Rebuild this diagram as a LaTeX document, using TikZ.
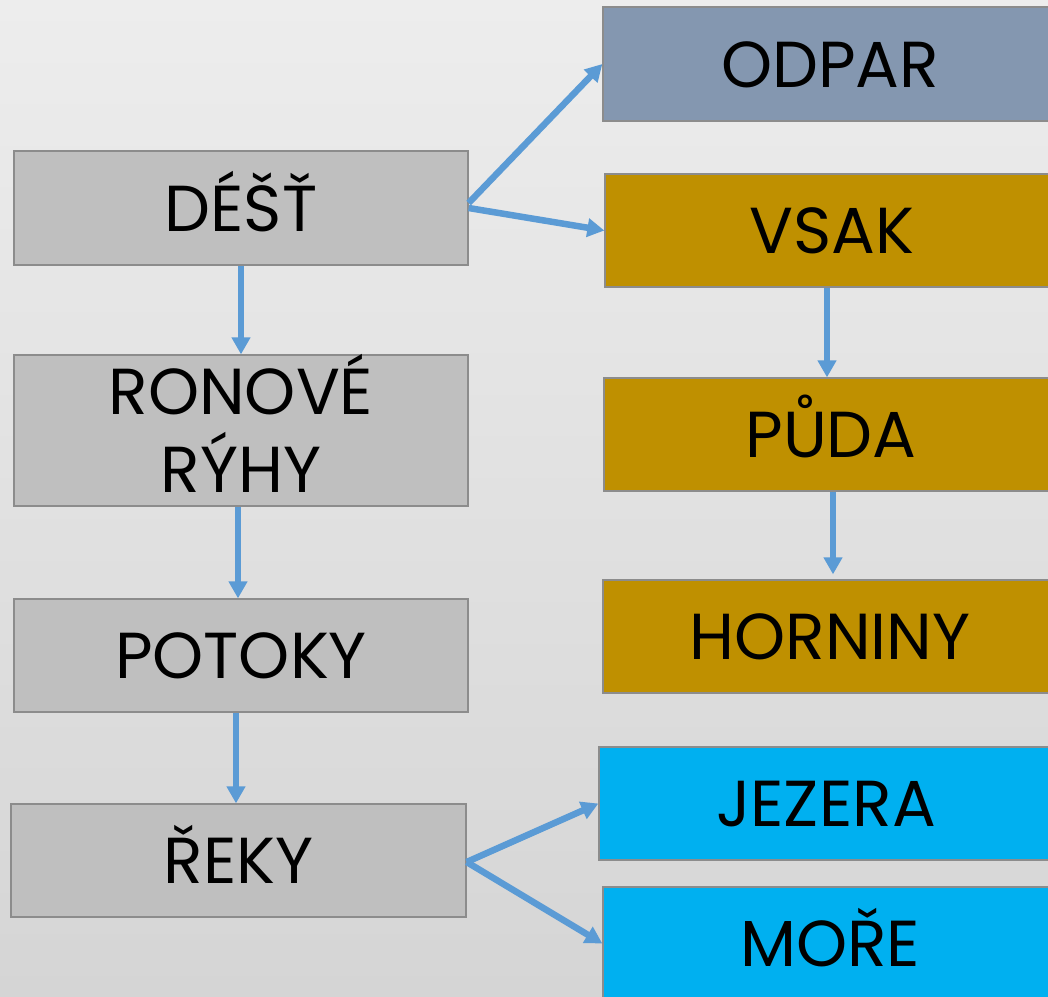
\documentclass[tikz,border=0pt]{standalone}
\usepackage{fontspec}
\setmainfont{Poppins}
\usetikzlibrary{arrows.meta}
\definecolor{bgtop}{HTML}{EDEDED}
\definecolor{bgbot}{HTML}{D5D5D5}
\definecolor{boxgray}{HTML}{BFBFBF}
\definecolor{boxedge}{HTML}{8C8C8C}
\definecolor{odparc}{HTML}{8497B0}
\definecolor{goldc}{HTML}{BF9000}
\definecolor{bluec}{HTML}{00B0F0}
\definecolor{arrowc}{HTML}{5B9BD5}
\begin{document}
\begin{tikzpicture}[x=1pt,y=-1pt,
  box/.style={draw=boxedge, line width=1.3pt, minimum width=454pt, minimum height=113pt,
    inner sep=0pt, align=center, font=\fontsize{65}{78}\selectfont, text=black,
    text height=46pt, text depth=0pt},
  flow/.style={draw=arrowc, line width=6.5pt, -{Triangle[length=17pt,width=18pt]}}]
\useasboundingbox (0,0) rectangle (1048,996);
\shade[top color=bgtop,bottom color=bgbot] (0,0) rectangle (1048,996);
% left column
\node[box, fill=boxgray, minimum height=114pt] (dest) at (241,208) {DÉŠŤ};
\node[box, fill=boxgray, minimum height=151pt, text height=124pt] (ronove) at (241,430.5) {RONOVÉ\\RÝHY};
\node[box, fill=boxgray] (potoky) at (241,655.5) {POTOKY};
\node[box, fill=boxgray, minimum width=455pt] (reky) at (238.5,860.5) {ŘEKY};
% right column
\node[box, fill=odparc, minimum height=114pt] (odpar) at (830,64) {ODPAR};
\node[box, fill=goldc] (vsak) at (832,230.5) {VSAK};
\node[box, fill=goldc] (puda) at (831,434.5) {PŮDA};
\node[box, fill=goldc] (horniny) at (830,636.5) {HORNINY};
\node[box, fill=bluec] (jezera) at (826,803.5) {JEZERA};
\node[box, fill=bluec] (more) at (830,943.5) {MOŘE};
% connectors
\draw[flow] ([yshift=5pt]dest.east) -- (odpar.west);
\draw[flow] (dest.east) -- (vsak.west);
\draw[flow] (dest.south) -- (ronove.north);
\draw[flow] ([xshift=-3pt]ronove.south) -- ([xshift=-3pt]ronove.south |- potoky.north);
\draw[flow] ([xshift=-5pt]potoky.south) -- ([xshift=-5pt]potoky.south |- reky.north);
\draw[flow] ([xshift=-5pt]vsak.south) -- ([xshift=-5pt]vsak.south |- puda.north);
\draw[flow, shorten >=5pt] ([xshift=2pt]puda.south) -- ([xshift=2pt]puda.south |- horniny.north);
\draw[flow] ([yshift=-1.5pt]reky.east) -- (jezera.west);
\draw[flow] ([yshift=-1.5pt]reky.east) -- (more.west);
\end{tikzpicture}
\end{document}
